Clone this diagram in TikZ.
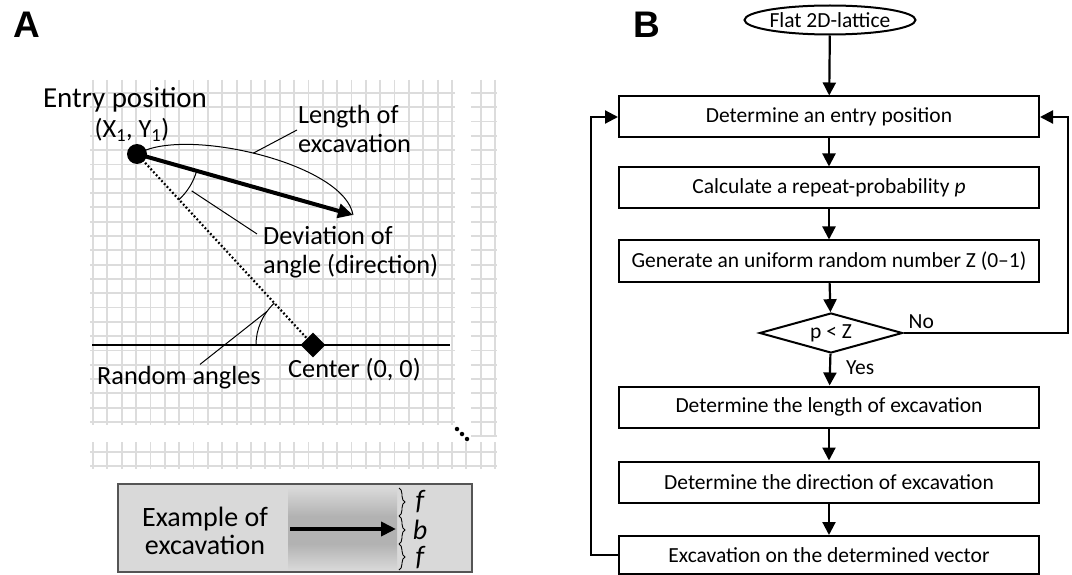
\documentclass[tikz,border=0pt]{standalone}
\usepackage{fontspec}
\setmainfont{Carlito}
\newfontfamily\panelfont{Liberation Sans}
\usetikzlibrary{arrows.meta,shapes.geometric,decorations.pathreplacing,calc}
\definecolor{gridgray}{HTML}{DCDCDC}
\definecolor{boxgray}{HTML}{D9D9D9}
\definecolor{boxedge}{HTML}{555555}
\begin{document}
\begin{tikzpicture}[x=1pt,y=-1pt,
  gridline/.style={draw=gridgray, line width=1.8pt},
  stepbox/.style={draw, line width=2pt, minimum width=420pt, minimum height=41pt, inner sep=0pt, font=\fontsize{21.5}{24}\selectfont},
  flow/.style={line width=2.2pt, -{Triangle[width=13pt,length=13pt]}},
  lbl/.style={font=\fontsize{26.3}{29}\selectfont, inner sep=0pt},
  leader/.style={line width=1pt},
  panel/.style={font=\panelfont\bfseries\fontsize{37}{40}\selectfont, inner sep=0pt},
  bigarrow/.style={line width=4pt, -{Triangle[width=14pt,length=15pt]}}
]
\useasboundingbox[fill=white] (0,0) rectangle (1072,575);

% ---------- panel labels
\node[panel] (labA) at (27,25) {A};
\node[panel] (labB) at (647,25) {B};

% ---------- grid (panel A)
\foreach \i in {0,...,25} \draw[gridline] ({93+14.36*\i},80) -- ({93+14.36*\i},425);
\foreach \j in {0,...,23} \draw[gridline] (90,{93+14.3*\j}) -- (455,{93+14.3*\j});
\foreach \i in {27,28} \draw[gridline] ({93+14.36*\i},80) -- ({93+14.36*\i},437);
\foreach \j in {0,...,24} \draw[gridline] (471,{93+14.3*\j}) -- (497,{93+14.3*\j});
\foreach \j in {452,466} \draw[gridline] (90,\j) -- (497,\j);
\foreach \i in {0,...,28} \draw[gridline] ({93+14.36*\i},442) -- ({93+14.36*\i},469);

% continuation dots
\foreach \k/\px/\py in {1/457/429,2/462/434,3/467/439}
  \node[circle, fill, inner sep=0pt, minimum size=4.5pt] (dot\k) at (\px,\py) {};

% ---------- axis, entry, center
\coordinate (axL) at (92,345);
\coordinate (axR) at (450,345);
\draw[line width=2pt] (axL) -- (axR);

\node[circle, fill, inner sep=0pt, minimum size=20pt] (entry) at (137,154) {};
\node[diamond, fill, inner sep=0pt, minimum width=25pt, minimum height=25pt] (cent) at (313,345) {};
\draw[line width=2.2pt, dash pattern=on 1.8pt off 2.2pt] (entry.center) -- (cent.center);

\coordinate (tip) at (353,215);
\draw[bigarrow] (entry.center) -- (tip);

% length of excavation
\node[lbl, anchor=west, align=left] (lenlbl) at (298,129) {Length of\\excavation};
\draw[leader] (146,150) .. controls (200,130) and (345,166) .. coordinate[pos=0.45] (lenmark) (tip);
\draw[leader] (lenmark) -- ($(lenlbl.west)+(-1,1)$);

% deviation of angle
\node[lbl, anchor=west, align=left] (devlbl) at (263,252) {Deviation of\\angle (direction)};
\draw[leader] ($(entry.center)+(15.8:62)$) arc[start angle=15.8, end angle=47.3, radius=62];
\coordinate (devmark) at ($(entry.center)+(34:66)$);
\draw[leader] (devmark) -- ($(devlbl.north west)+(-6,8)$);

% random angles
\node[lbl, anchor=west] (randlbl) at (97,378) {Random angles};
\node[lbl, anchor=west] (centlbl) at (288,370) {Center (0, 0)};
\draw[leader] ($(cent.center)+(180:57)$) arc[start angle=180, end angle=227.3, radius=57];
\coordinate (randmark) at ($(cent.center)+(216:57)$);
\draw[leader] (randmark) -- ($(randlbl.north)+(21,-2)$);

% entry label
\node[font=\fontsize{29}{30}\selectfont, inner sep=0pt] (entrylbl) at (125,100) {Entry position};
\node[lbl] (entryxy) at (132,130) {(X\textsubscript{1}, Y\textsubscript{1})};

% ---------- example box
\node[draw=boxedge, fill=boxgray, line width=1.5pt, minimum width=354pt, minimum height=88pt, inner sep=0pt] (exbox) at (295,528) {};
\node[font=\fontsize{28}{28}\selectfont, align=center, inner sep=0pt] (extext) at (205,531) {Example of\\excavation};
\shade[top color=gray!30, middle color=white, bottom color=gray!60] (288,488) rectangle (397,516);
\shade[top color=gray!60, middle color=white, bottom color=gray!60] (288,516) rectangle (397,544);
\shade[top color=gray!60, middle color=white, bottom color=gray!30] (288,544) rectangle (397,570);
\coordinate (exA) at (290,529);
\coordinate (exB) at (396,529);
\draw[bigarrow] (exA) -- (exB);
\coordinate (br0) at (399,488);
\coordinate (br1) at (399,516);
\coordinate (br2) at (399,544);
\coordinate (br3) at (399,570);
\draw[line width=0.9pt, decorate, decoration={brace, amplitude=6pt}] (br0) -- (br1);
\draw[line width=0.9pt, decorate, decoration={brace, amplitude=6pt}] (br1) -- (br2);
\draw[line width=0.9pt, decorate, decoration={brace, amplitude=6pt}] (br2) -- (br3);
\node[font=\fontsize{28}{28}\selectfont\itshape, inner sep=0pt] (ef1) at (420,502) {f};
\node[font=\fontsize{28}{28}\selectfont\itshape, inner sep=0pt] (eb) at (420,530) {b};
\node[font=\fontsize{28}{28}\selectfont\itshape, inner sep=0pt] (ef2) at (420,558) {f};

% ---------- flowchart (panel B)
\node[ellipse, draw, line width=2pt, minimum width=160pt, minimum height=29pt, inner sep=0pt, font=\fontsize{21.5}{24}\selectfont] (start) at (830,20) {Flat 2D-lattice};
\node[stepbox] (b1) at (829,117) {Determine an entry position};
\node[stepbox] (b2) at (829,188) {Calculate a repeat-probability \textit{p}};
\node[stepbox] (b3) at (829,261) {Generate an uniform random number Z (0--1)};
\node[diamond, draw, line width=2pt, aspect=3.5, minimum width=143pt, minimum height=40pt, inner sep=0pt, font=\fontsize{21.5}{24}\selectfont] (dia) at (831,333) {p < Z};
\node[stepbox] (b4) at (829,407) {Determine the length of excavation};
\node[stepbox] (b5) at (829,482) {Determine the direction of excavation};
\node[stepbox, minimum height=38pt] (b6) at (829,555) {Excavation on the determined vector};

\draw[flow] (start) -- (b1);
\draw[flow] (b1) -- (b2);
\draw[flow] (b2) -- (b3);
\draw[flow] (b3) -- (dia);
\draw[flow] (dia) -- node[right=15pt, pos=0.45, inner sep=0pt, font=\fontsize{21.5}{24}\selectfont] (yes) {Yes} (b4);
\draw[flow] (b4) -- (b5);
\draw[flow] (b5) -- (b6);

\coordinate (loopL) at (591,0);
\coordinate (loopR) at (1068,0);
\draw[flow] (b6.west) -- (b6.west -| loopL) -- (b1.west -| loopL) -- (b1.west);
\draw[flow] (dia.east) -- (dia.east -| loopR) -- (b1.east -| loopR) -- (b1.east);
\node[anchor=south west, inner sep=0pt, font=\fontsize{21.5}{24}\selectfont] (nolbl) at ($(dia.east)+(5,-4)$) {No};
\end{tikzpicture}
\end{document}
